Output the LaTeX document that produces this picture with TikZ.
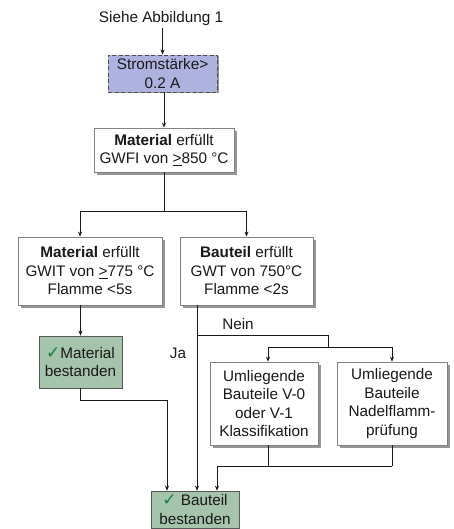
\documentclass[tikz,border=0pt]{standalone}
\usepackage{fontspec}
\setmainfont{Liberation Sans}
\newfontfamily\symfont{DejaVu Sans}
\usetikzlibrary{arrows.meta,shadows}
\definecolor{lav}{RGB}{174,178,222}
\definecolor{grn}{RGB}{164,196,171}
\definecolor{chk}{RGB}{20,130,60}
\definecolor{bord}{RGB}{130,130,130}
\definecolor{shd}{RGB}{150,150,150}
\newcommand{\chkmark}{{\symfont\fontsize{17}{18}\selectfont\color{chk}✓}}
\begin{document}
\begin{tikzpicture}[x=1pt,y=-1pt,
  every node/.style={font=\fontsize{15.3}{18.5}\selectfont, align=center, inner sep=2pt, text=black!90},
  wbox/.style={draw=bord, line width=0.8pt, fill=white, drop shadow={shadow xshift=3pt, shadow yshift=-3pt, fill=shd, opacity=1}},
  lbox/.style={draw=black!70, dash pattern=on 4pt off 2.5pt, line width=0.9pt, fill=lav, drop shadow={shadow xshift=1.5pt, shadow yshift=-1.5pt, fill=shd, opacity=1}},
  gbox/.style={draw=black!65, line width=0.7pt, fill=grn},
  conn/.style={line width=0.6pt, black!90},
  arr/.style={conn, -{Stealth[length=5pt,width=4pt]}}]
\useasboundingbox (0,0) rectangle (454,529);
\node (siehe) at (161,19) {Siehe Abbildung 1};
\node[lbox, minimum width=109pt, minimum height=37pt] (strom) at (162.5,73.5) {Stromstärke>\\0.2 A};
\node[wbox, minimum width=140pt, minimum height=44pt] (mat) at (164,150) {\textbf{Material} erfüllt\\GWFI von \underline{>}850 °C};
\node[wbox, minimum width=144pt, minimum height=68pt] (left) at (90,271) {\textbf{Material} erfüllt\\GWIT von \underline{>}775 °C\\Flamme <5s};
\node[wbox, minimum width=133pt, minimum height=68pt] (right) at (246.5,271) {\textbf{Bauteil} erfüllt\\GWT von 750°C\\Flamme <2s};
\node[gbox, minimum width=83pt, minimum height=52pt] (matbest) at (80.5,362) {\chkmark Material\\bestanden};
\node[wbox, minimum width=108pt, minimum height=83pt] (v0) at (264,403.5) {Umliegende\\Bauteile V-0\\oder V-1\\Klassifikation};
\node[wbox, minimum width=110pt, minimum height=83pt] (nadel) at (392,403.5) {Umliegende\\Bauteile\\Nadelflamm-\\prüfung};
\node[gbox, minimum width=88pt, minimum height=37pt] (bbest) at (195,509.5) {\chkmark\ Bauteil\\bestanden};
\node (nein) at (238,324) {Nein};
\node (ja) at (178,353) {Ja};
% connectors
\draw[arr] (strom.north |- siehe.south) -- (strom.north);
\draw[arr] (strom.south -| mat.north) -- (mat.north);
\coordinate (sp) at (164,211);
\coordinate (la) at (80,211);
\coordinate (ra) at (246.5,211);
\draw[conn] (mat.south) -- (sp);
\draw[conn] (la) -- (ra);
\draw[arr] (la) -- (la |- left.north);
\draw[arr] (ra) -- (right.north);
\draw[arr] (matbest.north |- left.south) -- (matbest.north);
\coordinate (c1) at (167,400);
\draw[arr] (matbest.south) |- (c1) -- (c1 |- bbest.north);
\coordinate (jx) at (197,335);
\draw[arr] (jx |- right.south) -- (jx |- bbest.north);
\coordinate (nx) at (328,335);
\coordinate (ny) at (328,347);
\coordinate (a3) at (268,347);
\coordinate (a4) at (392,347);
\draw[conn] (jx) -- (nx) -- (ny);
\draw[conn] (a3) -- (a4);
\draw[arr] (a3) -- (a3 |- v0.north);
\draw[arr] (a4) -- (nadel.north);
\coordinate (b2) at (217,466);
\coordinate (b3) at (268,466);
\coordinate (b4) at (392,466);
\draw[conn] (a3 |- v0.south) -- (b3);
\draw[conn] (nadel.south) -- (b4);
\draw[conn] (b2) -- (b4);
\draw[arr] (b2) -- (b2 |- bbest.north);
\end{tikzpicture}
\end{document}
